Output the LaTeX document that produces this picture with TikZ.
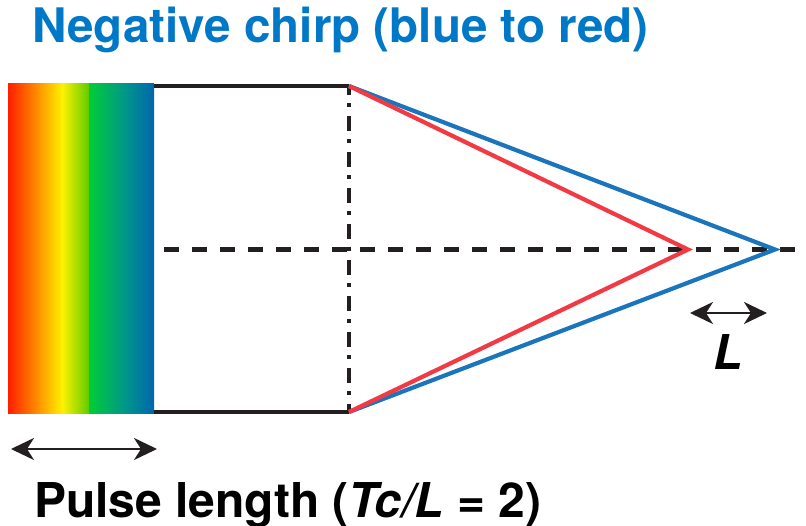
\documentclass[tikz,border=0pt]{standalone}
\usepackage{fontspec}
\setmainfont{TeX Gyre Heros}
\usetikzlibrary{arrows.meta}
\definecolor{titleblue}{HTML}{0078C8}
\definecolor{lineblue}{HTML}{1B75BC}
\definecolor{linered}{HTML}{F23A45}
\definecolor{ink}{HTML}{231F20}
\definecolor{gRed}{HTML}{FF1E00}
\definecolor{gOrange}{HTML}{FF9A00}
\definecolor{gYellow}{HTML}{FFF200}
\definecolor{gLime}{HTML}{5ACA00}
\definecolor{gGreen}{HTML}{00CC3A}
\definecolor{gTeal}{HTML}{00968A}
\definecolor{gBlue}{HTML}{0066AE}
\tikzset{
  blackline/.style={draw=ink, line width=4.2pt},
  chirpblue/.style={draw=lineblue, line width=4.2pt},
  chirpred/.style={draw=linered, line width=4.2pt},
  axisdash/.style={draw=ink, line width=4.2pt, dash pattern=on 15pt off 13pt},
  dashdotline/.style={draw=ink, line width=4.2pt, dash pattern=on 15pt off 8.5pt on 4pt off 8.5pt, dash phase=6pt},
  dimarrow/.style={draw=ink, line width=2.5pt, {Stealth[length=23pt,width=22pt,inset=7pt]}-{Stealth[length=23pt,width=22pt,inset=7pt]}},
  titletext/.style={inner sep=0pt, font=\fontsize{47.6}{48}\selectfont\bfseries},
  bigtext/.style={inner sep=0pt, font=\fontsize{48}{48}\selectfont\bfseries},
}
\begin{document}
\begin{tikzpicture}[x=1pt,y=-1pt]
\useasboundingbox (0,0) rectangle (806,526);

% spectrum gradient
\shade[left color=gRed, right color=gOrange] (8,84) rectangle (40.5,414);
\shade[left color=gOrange, right color=gYellow] (40,84) rectangle (62.5,414);
\shade[left color=gYellow, right color=gLime] (62,84) rectangle (90,414);
\shade[left color=gGreen, right color=gTeal] (89.7,84) rectangle (125.5,414);
\shade[left color=gTeal, right color=gBlue] (125,84) rectangle (154,414);

% coordinates
\coordinate (tl) at (154,86);
\coordinate (tr) at (349,86);
\coordinate (bl) at (154,412);
\coordinate (br) at (349,412);
\coordinate (hl) at (164,249.5);
\coordinate (hr) at (796,249.5);
\coordinate (redapex) at (688,249.5);
\coordinate (blueapex) at (775,249.5);
\coordinate (pa) at (11,449);
\coordinate (pb) at (157,449);
\coordinate (la) at (690,313);
\coordinate (lb) at (767,313);

% axis
\draw[axisdash] (hl) -- (hr);

% black lens
\draw[blackline] (tl) -- (tr);
\draw[blackline] (bl) -- (br);
\draw[dashdotline] (tr) -- (br);

% rays
\draw[chirpblue] (tr) -- (blueapex) -- (br);
\draw[chirpred] (tr) -- (redapex) -- (br);

% arrows
\draw[dimarrow] (pa) -- (pb);
\draw[dimarrow] (la) -- (lb);

% texts
\node[titletext, anchor=base west, text=titleblue] (title) at (32,43) {Negative chirp (blue to red)};
\node[bigtext, anchor=base west, text=black] (pulse) at (34,517) {Pulse length (\textit{Tc/L} = 2)};
\node[bigtext, anchor=base, text=black] (Llabel) at (728,370) {\textit{L}};
\end{tikzpicture}
\end{document}
